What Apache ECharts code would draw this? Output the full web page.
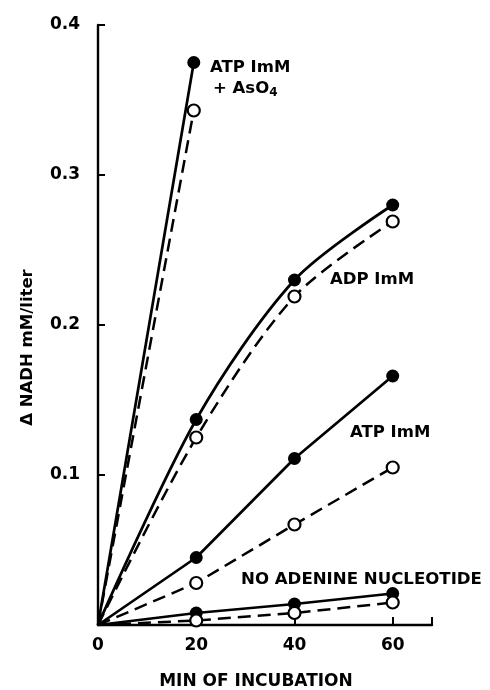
<!DOCTYPE html>
<html>
<head>
<meta charset="utf-8">
<script src="https://cdn.jsdelivr.net/npm/echarts@6/dist/echarts.min.js"></script>
<style>
  html, body { margin: 0; padding: 0; background: #fff; }
  #chart { width: 490px; height: 690px; }
</style>
</head>
<body>
<div id="chart"></div>
<script>
// minutes of incubation
const minutes = [0, 20, 40, 60];

// ATP 1mM + AsO4 (only measured at ~20 min)
const atpAsMin = [0, 19.5];
const atpAsFilled = [0, 0.375];
const atpAsOpen = [0, 0.343];

// ADP 1mM
const adpFilled = [0, 0.137, 0.230, 0.280];
const adpOpen = [0, 0.125, 0.219, 0.269];

// ATP 1mM
const atpFilled = [0, 0.045, 0.111, 0.166];
const atpOpen = [0, 0.028, 0.067, 0.105];

// no adenine nucleotide
const noneFilled = [0, 0.008, 0.014, 0.021];
const noneOpen = [0, 0.003, 0.008, 0.015];

const yTicks = [0.1, 0.2, 0.3, 0.4];
const xTicks = [0, 20, 40, 60];

const font = '"DejaVu Sans", Verdana, sans-serif';

// origin point is drawn without a marker
function pairs(xs, ys) {
  return xs.map((x, i) => i === 0 ? { value: [x, ys[i]], symbol: 'none' } : [x, ys[i]]);
}

function filledSeries(xs, ys, smooth) {
  return {
    type: 'line',
    data: pairs(xs, ys),
    smooth: smooth ? 0.3 : false,
    symbol: 'circle',
    symbolSize: 13,
    showSymbol: true,
    itemStyle: { color: '#000', borderWidth: 0 },
    lineStyle: { color: '#000', width: 2.7 },
    z: 3,
    animation: false
  };
}

function openSeries(xs, ys, smooth) {
  return {
    type: 'line',
    data: pairs(xs, ys),
    smooth: smooth ? 0.3 : false,
    symbol: 'circle',
    symbolSize: 12,
    showSymbol: true,
    itemStyle: { color: '#fff', borderColor: '#000', borderWidth: 2.2 },
    lineStyle: { color: '#000', width: 2.5, type: [13, 7] },
    z: 4,
    animation: false
  };
}

const labelFont = 'bold 16.5px ' + font;

const chart = echarts.init(document.getElementById('chart'));
chart.setOption({
  backgroundColor: '#fff',
  grid: { left: 98, right: 58, top: 25, bottom: 65, outerBoundsMode: 'none' },
  xAxis: {
    type: 'value',
    min: 0,
    max: 68,
    interval: 20,
    axisLine: { lineStyle: { color: '#000', width: 2.4 } },
    axisTick: { show: true, inside: true, length: 8, lineStyle: { color: '#000', width: 2 } },
    splitLine: { show: false },
    axisLabel: {
      color: '#000', fontFamily: font, fontWeight: 'bold', fontSize: 17, margin: 12,
      formatter: v => xTicks.includes(v) ? String(v) : ''
    },
    name: 'MIN OF INCUBATION',
    nameLocation: 'middle',
    nameGap: 48,
    nameTextStyle: { color: '#000', fontFamily: font, fontWeight: 'bold', fontSize: 17, padding: [0, 0, 0, -18] }
  },
  yAxis: {
    type: 'value',
    min: 0,
    max: 0.4,
    interval: 0.1,
    axisLine: { show: true, lineStyle: { color: '#000', width: 2.4 } },
    axisTick: { show: true, inside: true, length: 7, lineStyle: { color: '#000', width: 2 } },
    splitLine: { show: false },
    axisLabel: {
      color: '#000', fontFamily: font, fontWeight: 'bold', fontSize: 17, margin: 18,
      formatter: v => {
        const t = yTicks.find(k => Math.abs(k - v) < 1e-6);
        return t ? t.toFixed(1) : '';
      }
    },
    name: 'Δ NADH mM/liter',
    nameLocation: 'middle',
    nameGap: 62,
    nameRotate: 90,
    nameTextStyle: { color: '#000', fontFamily: font, fontWeight: 'bold', fontSize: 16.5, padding: [0, 0, 0, -45] }
  },
  graphic: [
    { type: 'text', left: 210, top: 59, style: { text: 'ATP ImM', font: labelFont, fill: '#000' } },
    { type: 'text', left: 213, top: 80, style: { text: '{a|+ AsO}{s|4}', font: labelFont, fill: '#000',
        rich: { a: { font: labelFont, fill: '#000' }, s: { font: 'bold 12px ' + font, fill: '#000', padding: [9, 0, 0, 0] } } } },
    { type: 'text', left: 330, top: 271, style: { text: 'ADP ImM', font: labelFont, fill: '#000' } },
    { type: 'text', left: 350, top: 424, style: { text: 'ATP ImM', font: labelFont, fill: '#000' } },
    { type: 'text', left: 241, top: 571, style: { text: 'NO ADENINE NUCLEOTIDE', font: 'bold 16.6px ' + font, fill: '#000' } }
  ],
  series: [
    filledSeries(atpAsMin, atpAsFilled, false),
    openSeries(atpAsMin, atpAsOpen, false),
    filledSeries(minutes, adpFilled, true),
    openSeries(minutes, adpOpen, true),
    filledSeries(minutes, atpFilled, false),
    openSeries(minutes, atpOpen, false),
    filledSeries(minutes, noneFilled, false),
    openSeries(minutes, noneOpen, false)
  ]
});
</script>
</body>
</html>
